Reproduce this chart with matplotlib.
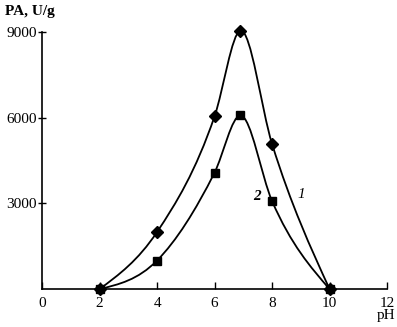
import numpy as np
import matplotlib.pyplot as plt
from matplotlib.path import Path
from matplotlib.patches import PathPatch

# data
ph = [2, 4, 6, 6.9, 8, 10]
pa_1 = [0, 2000, 6050, 9050, 5080, 0]   # curve 1, diamonds
pa_2 = [0, 1000, 4080, 6080, 3080, 0]   # curve 2, squares

x_ticks = [0, 2, 4, 6, 8, 10, 12]
y_ticks = [3000, 6000, 9000]

plt.rcParams['font.family'] = ['Liberation Serif', 'DejaVu Serif']


# smooth curve through the points (cubic hermite drawn as bezier segments)
def smooth_path(xs, ys):
    x = np.asarray(xs, float)
    y = np.asarray(ys, float)
    h = np.diff(x)
    d = np.diff(y) / h
    n = len(x)
    m = np.zeros(n)
    for i in range(1, n - 1):
        m[i] = (d[i - 1] * h[i] + d[i] * h[i - 1]) / (h[i - 1] + h[i])
    m[0] = (3 * d[0] - m[1]) / 2
    m[-1] = (3 * d[-1] - m[-2]) / 2
    verts = [(x[0], y[0])]
    codes = [Path.MOVETO]
    for i in range(n - 1):
        verts += [(x[i] + h[i] / 3, y[i] + m[i] * h[i] / 3),
                  (x[i + 1] - h[i] / 3, y[i + 1] - m[i + 1] * h[i] / 3),
                  (x[i + 1], y[i + 1])]
        codes += [Path.CURVE4] * 3
    return Path(verts, codes)


fig = plt.figure(figsize=(3.97, 3.27), dpi=100)
ax = fig.add_axes([0.106, 0.116, 0.869, 0.786])
ax.set_xlim(0, 12)
ax.set_ylim(0, 9000)

for ys in (pa_1, pa_2):
    ax.add_patch(PathPatch(smooth_path(ph, ys), facecolor='none',
                           edgecolor='black', lw=1.3, clip_on=False))

ax.plot(ph, pa_1, linestyle='none', marker='D', ms=6, color='black', clip_on=False, zorder=3)
ax.plot(ph, pa_2, linestyle='none', marker='s', ms=6, color='black', clip_on=False, zorder=3)

ax.text(7.47, 3250, '2', fontsize=11, style='italic', fontweight='bold', ha='center', va='center')
ax.text(9.0, 3300, '1', fontsize=11, style='italic', ha='center', va='center')

ax.spines['top'].set_visible(False)
ax.spines['right'].set_visible(False)
ax.spines['left'].set_linewidth(1.2)
ax.spines['bottom'].set_linewidth(1.2)

ax.set_xticks(x_ticks)
ax.set_xticklabels([str(t) for t in x_ticks])
ax.set_yticks(y_ticks)
ax.set_yticklabels([str(t) for t in y_ticks])
ax.tick_params(axis='x', direction='in', length=5, width=1, labelsize=11, pad=6)
ax.tick_params(axis='y', direction='inout', length=6, width=1, labelsize=11, pad=1)

fig.text(0.012, 0.965, 'PA, U/g', fontsize=11, fontweight='bold', ha='left', va='center')
fig.text(0.972, 0.035, 'pH', fontsize=11, ha='center', va='center')

fig.savefig('out.png', dpi=100)
